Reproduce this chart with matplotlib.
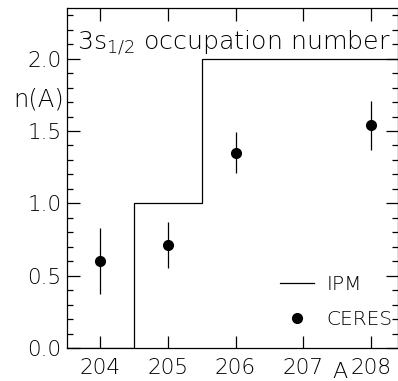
import matplotlib
matplotlib.use('Agg')
import matplotlib.pyplot as plt
from matplotlib.lines import Line2D

# CERES data for 3s1/2 occupation
masses = [204, 205, 206, 208]
occupation = [0.60, 0.71, 1.35, 1.54]
occ_err = [0.23, 0.16, 0.14, 0.17]

# independent particle model, step function
ipm_edges = [203.5, 204.5, 205.5, 208.5]
ipm_values = [0.0, 1.0, 2.0]

tick_labels = ['204', '205', '206', '207', '208']

plt.rcParams['font.family'] = ['DejaVu Sans']
plt.rcParams['font.weight'] = 'light'
plt.rcParams['font.size'] = 15.5

fig = plt.figure(figsize=(3.98, 3.81), dpi=100)
ax = fig.add_axes([67 / 398, 33 / 381, 331 / 398, 340 / 381])

ax.stairs(ipm_values, ipm_edges, color='black', lw=0.9)
ax.errorbar(masses, occupation, yerr=occ_err, fmt='o', color='black',
            ms=7, elinewidth=0.9, capsize=0)

ax.set_xlim(203.51, 208.4)
ax.set_ylim(0, 2.35)
ax.set_xticks([204, 205, 206, 207, 208])
ax.set_xticklabels(tick_labels)
ax.set_yticks([0.0, 0.5, 1.0, 1.5, 2.0])
ax.set_yticklabels(['0.0', '0.5', '1.0', '1.5', '2.0'])
ax.set_yticks([i / 10 for i in range(24)], minor=True)

ax.tick_params(which='both', direction='in', top=True, right=True, width=0.9)
ax.tick_params(which='major', length=9, pad=4)
ax.tick_params(axis='x', pad=7)
ax.tick_params(which='minor', length=4)
for s in ax.spines.values():
    s.set_linewidth(0.9)

ax.text(0.03, 0.94, r'3s$_{1/2}$ occupation number', transform=ax.transAxes,
        ha='left', va='top', fontsize=18.2)
ax.text(-0.01, 0.73, 'n(A)', transform=ax.transAxes, ha='right', va='center',
        fontsize=17.5)
ax.text(0.825, -0.04, 'A', transform=ax.transAxes, ha='center', va='top',
        fontsize=16)

handles = [Line2D([], [], color='black', lw=0.9),
           Line2D([], [], color='black', marker='o', ls='none', ms=7)]
ax.legend(handles, ['IPM', 'CERES'], loc='lower right', frameon=False,
          fontsize=14.5, handlelength=1.7, handletextpad=0.6,
          borderaxespad=0.2, labelspacing=0.8, bbox_to_anchor=(1.02, 0.02))

fig.savefig('out.png', dpi=100)
